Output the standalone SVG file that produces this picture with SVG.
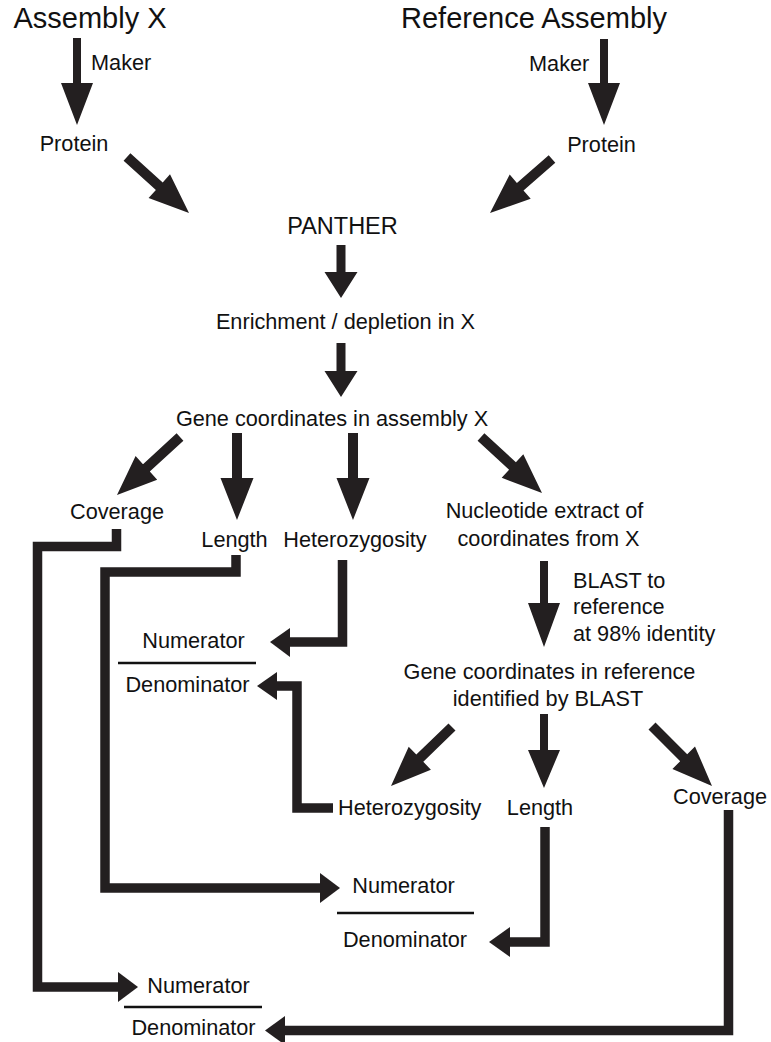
<svg xmlns="http://www.w3.org/2000/svg" width="771" height="1042" viewBox="0 0 771 1042">
<style>
text{font-family:"Liberation Sans",Arial,sans-serif;font-size:21.7px;fill:#111}
.title{font-size:29px}
.big{font-size:23.5px}
.m{text-anchor:middle}
.ah{fill:#231f20;stroke:none}
.conn{fill:none;stroke:#231f20;stroke-width:9.5;stroke-linejoin:miter}
.frac{stroke:#111;stroke-width:2.5}
</style>
<rect width="771" height="1042" fill="#fff"/>
<g id="assemblyX"><text class="title m" x="90" y="28">Assembly X</text></g>
<g id="referenceAssembly"><text class="title m" x="534" y="28">Reference Assembly</text></g>
<g id="proteinX"><text class="m" x="74" y="151">Protein</text></g>
<g id="proteinRef"><text class="m" x="601.5" y="152">Protein</text></g>
<g id="panther"><text class="big m" x="342.5" y="234">PANTHER</text></g>
<g id="enrichment"><text class="m" x="345.5" y="329">Enrichment / depletion in X</text></g>
<g id="geneCoordsX"><text class="m" x="332" y="426">Gene coordinates in assembly X</text></g>
<g id="coverageX"><text class="m" x="117" y="519">Coverage</text></g>
<g id="lengthX"><text class="m" x="234.5" y="547">Length</text></g>
<g id="hetX"><text class="m" x="355" y="547">Heterozygosity</text></g>
<g id="nucleotide"><text class="m" x="544.5" y="518">Nucleotide extract of</text><text class="m" x="548.5" y="546">coordinates from X</text></g>
<g id="geneCoordsRef"><text class="m" x="549.5" y="679">Gene coordinates in reference</text><text class="m" x="548" y="706">identified by BLAST</text></g>
<g id="hetRef"><text x="338" y="815">Heterozygosity</text></g>
<g id="lengthRef"><text class="m" x="540" y="815">Length</text></g>
<g id="coverageRef"><text class="m" x="720" y="804">Coverage</text></g>
<g id="ratioHet">
<text class="m" x="193.5" y="648">Numerator</text>
<line class="frac" x1="118" y1="663" x2="256" y2="663"/>
<text class="m" x="187.5" y="692">Denominator</text>
</g>
<g id="ratioLength">
<text class="m" x="403.5" y="893">Numerator</text>
<line class="frac" x1="337" y1="913" x2="474" y2="913"/>
<text class="m" x="405" y="947">Denominator</text>
</g>
<g id="ratioCoverage">
<text class="m" x="198.5" y="993">Numerator</text>
<line class="frac" x1="124" y1="1007" x2="262" y2="1007"/>
<text class="m" x="193.5" y="1035">Denominator</text>
</g>
<g id="connectors">
<text x="91" y="70">Maker</text>
<text x="529" y="71">Maker</text>
<text x="573" y="588">BLAST to</text>
<text x="573" y="614">reference</text>
<text x="573" y="641">at 98% identity</text>
<polygon class="ah" points="73,38 81,38 81,83 93,83 77,125 61,83 73,83"/>
<polygon class="ah" points="600,39 608,39 608,83 620,83 604,125 588,83 600,83"/>
<polygon class="ah" points="130.4,153.3 162.7,182.5 170,174.3 189,213 148.6,198.1 155.9,189.9 123.6,160.7"/>
<polygon class="ah" points="548.7,155.2 516.9,182.9 509.7,174.6 490,213 530.7,198.8 523.5,190.5 555.3,162.8"/>
<polygon class="ah" points="336.5,245 345.5,245 345.5,272 357.5,272 341,298 324.5,272 336.5,272"/>
<polygon class="ah" points="336.5,343 345.5,343 345.5,371 357.5,371 341,397 324.5,371 336.5,371"/>
<polygon class="ah" points="176.6,433.3 143,464.2 135.6,456.1 117,495 157.2,479.7 149.8,471.6 183.4,440.7"/>
<polygon class="ah" points="232,433 242,433 242,478 253.5,478 237,520 220.5,478 232,478"/>
<polygon class="ah" points="348,433 358,433 358,478 369.5,478 353,520 336.5,478 348,478"/>
<polygon class="ah" points="484.4,433.3 515.9,462.3 523.3,454.2 542,493 501.7,477.8 509.1,469.7 477.6,440.7"/>
<polygon class="ah" points="540,561 548,561 548,603 560,603 544,647 528,603 540,603"/>
<polygon class="ah" points="448.5,723.4 416.3,754.6 408.7,746.7 391,786 430.9,769.7 423.3,761.8 455.5,730.6"/>
<polygon class="ah" points="540,714 548,714 548,750 560,750 544,788 528,750 540,750"/>
<polygon class="ah" points="655.5,722.5 687.2,754.2 695,746.4 712,786 672.4,769 680.2,761.2 648.5,729.5"/>
<path class="conn" d="M116.5,529 V546.5 H37.5 V987 H119"/>
<polygon class="ah" points="118,972 138,987 118,1002"/>
<path class="conn" d="M236,555 V572 H105 V888 H321"/>
<polygon class="ah" points="320,873 340,888 320,903"/>
<path class="conn" d="M342.5,560 V642 H289"/>
<polygon class="ah" points="290,628 270,642 290,657"/>
<path class="conn" d="M333,808 H297 V686 H276"/>
<polygon class="ah" points="277,672 257,686 277,700"/>
<path class="conn" d="M545,827 V942 H509"/>
<polygon class="ah" points="510,927 489,942 510,957"/>
<path class="conn" d="M728.5,810 V1030.5 H284"/>
<polygon class="ah" points="285,1016 265,1030.5 285,1045"/>
</g>
</svg>
